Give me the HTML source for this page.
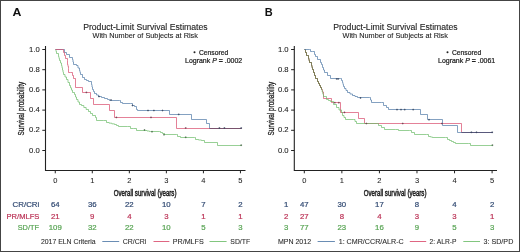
<!DOCTYPE html>
<html><head><meta charset="utf-8"><style>
html,body{margin:0;padding:0;background:#fff;}
body{width:520px;height:252px;overflow:hidden;}
svg{display:block;will-change:transform;filter:blur(0.3px);}
svg{font-family:"Liberation Sans", sans-serif;}
</style></head><body>
<svg width="520" height="252" viewBox="0 0 520 252">

<rect x="0.5" y="0.5" width="519" height="251" fill="none" stroke="#444" stroke-width="1"/>
<text x="12.5" y="15.8" font-size="11" font-weight="bold" fill="#111" stroke="none" textLength="8.9" lengthAdjust="spacingAndGlyphs">A</text>
<text x="264.7" y="15.9" font-size="11" font-weight="bold" fill="#111" stroke="none">B</text>
<text x="145.4" y="29.8" font-size="8.9" text-anchor="middle" fill="#222" stroke="#222" stroke-width="0.12" textLength="124.5" lengthAdjust="spacingAndGlyphs">Product-Limit Survival Estimates</text>
<text x="145.2" y="38.4" font-size="7.4" text-anchor="middle" fill="#222" stroke="#222" stroke-width="0.1" textLength="105.4" lengthAdjust="spacingAndGlyphs">With Number of Subjects at Risk</text>
<circle cx="194.5" cy="52.3" r="1.0" fill="#222"/>
<text x="199" y="55.0" font-size="6.9" fill="#222" textLength="29.2" lengthAdjust="spacingAndGlyphs" stroke="#222" stroke-width="0.22">Censored</text>
<text x="185.0" y="62.9" font-size="7.0" fill="#222" textLength="57.2" lengthAdjust="spacingAndGlyphs" stroke="#222" stroke-width="0.22">Logrank <tspan font-style="italic">P</tspan> <tspan font-weight="bold">=</tspan> .0002</text>
<path d="M45.5,46 V170.5 H245.5" fill="none" stroke="#222" stroke-width="1.1"/>
<line x1="42.3" y1="49.50" x2="45.5" y2="49.50" stroke="#222" stroke-width="1"/>
<text x="39.8" y="51.50" font-size="7.7" text-anchor="end" fill="#222" stroke="#222" stroke-width="0.08">1.0</text>
<line x1="42.3" y1="69.70" x2="45.5" y2="69.70" stroke="#222" stroke-width="1"/>
<text x="39.8" y="71.70" font-size="7.7" text-anchor="end" fill="#222" stroke="#222" stroke-width="0.08">0.8</text>
<line x1="42.3" y1="89.90" x2="45.5" y2="89.90" stroke="#222" stroke-width="1"/>
<text x="39.8" y="91.90" font-size="7.7" text-anchor="end" fill="#222" stroke="#222" stroke-width="0.08">0.6</text>
<line x1="42.3" y1="110.10" x2="45.5" y2="110.10" stroke="#222" stroke-width="1"/>
<text x="39.8" y="112.10" font-size="7.7" text-anchor="end" fill="#222" stroke="#222" stroke-width="0.08">0.4</text>
<line x1="42.3" y1="130.30" x2="45.5" y2="130.30" stroke="#222" stroke-width="1"/>
<text x="39.8" y="132.30" font-size="7.7" text-anchor="end" fill="#222" stroke="#222" stroke-width="0.08">0.2</text>
<line x1="42.3" y1="150.50" x2="45.5" y2="150.50" stroke="#222" stroke-width="1"/>
<text x="39.8" y="152.50" font-size="7.7" text-anchor="end" fill="#222" stroke="#222" stroke-width="0.08">0.0</text>
<line x1="55.25" y1="170.5" x2="55.25" y2="173.3" stroke="#222" stroke-width="1"/>
<text x="55.25" y="182.8" font-size="7.5" text-anchor="middle" fill="#222" stroke="#222" stroke-width="0.05">0</text>
<line x1="92.29" y1="170.5" x2="92.29" y2="173.3" stroke="#222" stroke-width="1"/>
<text x="92.29" y="182.8" font-size="7.5" text-anchor="middle" fill="#222" stroke="#222" stroke-width="0.05">1</text>
<line x1="129.33" y1="170.5" x2="129.33" y2="173.3" stroke="#222" stroke-width="1"/>
<text x="129.33" y="182.8" font-size="7.5" text-anchor="middle" fill="#222" stroke="#222" stroke-width="0.05">2</text>
<line x1="166.37" y1="170.5" x2="166.37" y2="173.3" stroke="#222" stroke-width="1"/>
<text x="166.37" y="182.8" font-size="7.5" text-anchor="middle" fill="#222" stroke="#222" stroke-width="0.05">3</text>
<line x1="203.41" y1="170.5" x2="203.41" y2="173.3" stroke="#222" stroke-width="1"/>
<text x="203.41" y="182.8" font-size="7.5" text-anchor="middle" fill="#222" stroke="#222" stroke-width="0.05">4</text>
<line x1="240.45" y1="170.5" x2="240.45" y2="173.3" stroke="#222" stroke-width="1"/>
<text x="240.45" y="182.8" font-size="7.5" text-anchor="middle" fill="#222" stroke="#222" stroke-width="0.05">5</text>
<text x="113.7" y="195.8" font-size="9.4" fill="#222" stroke="#222" stroke-width="0.5" textLength="62.8" lengthAdjust="spacingAndGlyphs">Overall survival (years)</text>
<text transform="translate(24,135.4) rotate(-90)" x="0" y="0" font-size="9.2" fill="#222" stroke="#222" stroke-width="0.3" textLength="53.6" lengthAdjust="spacingAndGlyphs">Survival probability</text>
<path d="M55.50,49.50 L56.00,49.50 L56.00,51.50 L56.50,51.50 L56.50,53.50 L58.50,53.50 L58.50,56.50 L59.00,56.50 L59.00,58.50 L59.50,58.50 L59.50,60.50 L60.50,60.50 L60.50,63.00 L61.50,63.00 L61.50,65.50 L62.00,65.50 L62.00,67.75 L62.50,67.75 L62.50,70.00 L63.00,70.00 L63.00,72.25 L63.50,72.25 L63.50,74.50 L65.00,74.50 L65.00,77.00 L66.50,77.00 L66.50,79.50 L68.00,79.50 L68.00,82.50 L69.50,82.50 L69.50,85.50 L70.50,85.50 L70.50,87.83 L71.50,87.83 L71.50,90.17 L72.50,90.17 L72.50,92.50 L74.50,92.50 L74.50,94.50 L75.50,94.50 L75.50,97.00 L76.50,97.00 L76.50,99.50 L78.00,99.50 L78.00,102.00 L79.50,102.00 L79.50,104.50 L81.50,104.50 L81.50,105.50 L83.83,105.50 L83.83,107.50 L86.17,107.50 L86.17,109.50 L88.50,109.50 L88.50,111.50 L90.50,111.50 L90.50,113.50 L92.50,113.50 L92.50,115.50 L95.50,115.50 L95.50,117.50 L96.50,117.50 L96.50,120.50 L103.50,120.50 L106.50,120.50 L106.50,122.50 L109.17,122.50 L109.17,123.17 L111.83,123.17 L111.83,123.83 L114.50,123.83 L114.50,124.50 L116.50,124.50 L116.50,125.50 L118.50,125.50 L118.50,126.50 L127.50,126.50 L130.50,126.50 L130.50,128.50 L133.50,128.50 L136.50,128.50 L136.50,130.50 L144.50,130.50 L147.00,130.50 L147.00,131.00 L149.50,131.00 L149.50,131.50 L150.50,131.50 L159.50,131.50 L160.50,131.50 L160.50,132.50 L162.50,132.50 L162.50,133.50 L164.50,133.50 L164.50,134.50 L176.50,134.50 L177.50,134.50 L177.50,136.50 L180.50,136.50 L180.50,137.50 L194.50,137.50 L195.50,137.50 L195.50,139.50 L198.50,139.50 L198.50,140.00 L201.50,140.00 L201.50,140.50 L204.50,140.50 L204.50,142.50 L217.50,142.50 L217.50,145.50 L241.50,145.50" fill="none" stroke="#6cbc68" stroke-width="0.7"/>
<path d="M55.50,49.50 L63.50,49.50 L64.50,49.50 L64.50,52.50 L66.50,52.50 L66.50,54.50 L69.50,54.50 L69.50,57.50 L72.50,57.50 L72.50,59.50 L73.00,59.50 L73.00,62.00 L73.50,62.00 L73.50,64.50 L76.50,64.50 L76.50,65.50 L78.00,65.50 L78.00,68.00 L79.50,68.00 L79.50,70.50 L80.00,70.50 L80.00,72.50 L80.50,72.50 L80.50,74.50 L82.50,74.50 L82.50,77.50 L84.50,77.50 L84.50,79.50 L86.50,79.50 L86.50,80.50 L88.50,80.50 L88.50,81.50 L91.50,81.50 L91.50,84.50 L92.00,84.50 L92.00,87.00 L92.50,87.00 L92.50,89.50 L93.50,89.50 L93.50,91.50 L94.50,91.50 L94.50,93.50 L96.50,93.50 L96.50,95.00 L98.50,95.00 L98.50,96.50 L101.50,96.50 L101.50,97.50 L104.50,97.50 L104.50,98.50 L107.50,98.50 L107.50,99.50 L109.50,99.50 L109.50,100.50 L119.50,100.50 L120.50,100.50 L120.50,102.50 L122.50,102.50 L122.50,103.50 L130.50,103.50 L132.50,103.50 L132.50,105.50 L134.50,105.50 L134.50,106.50 L136.50,106.50 L136.50,109.50 L137.50,109.50 L137.50,110.50 L169.50,110.50 L169.50,114.50 L191.50,114.50 L191.50,119.50 L206.50,119.50 L206.50,123.50 L209.50,123.50 L209.50,128.50 L241.50,128.50" fill="none" stroke="#4f78a6" stroke-width="0.7"/>
<path d="M55.50,49.50 L62.50,49.50 L63.50,49.50 L63.50,52.50 L64.50,52.50 L64.50,55.50 L65.50,55.50 L65.50,58.50 L67.50,58.50 L67.50,60.50 L67.50,64.50 L68.00,64.50 L68.00,66.50 L68.50,66.50 L68.50,68.50 L68.50,72.50 L70.50,72.50 L72.50,72.50 L72.50,75.50 L73.50,75.50 L73.50,78.50 L75.50,78.50 L75.50,87.50 L82.50,87.50 L82.50,92.50 L90.50,92.50 L90.50,98.50 L93.50,98.50 L93.50,104.50 L109.50,104.50 L109.50,110.50 L114.50,110.50 L114.50,117.50 L176.50,117.50 L176.50,128.50 L241.50,128.50" fill="none" stroke="#d94a6c" stroke-width="0.7"/>
<path d="M209.5,128.5 H241.5" fill="none" stroke="#5b4a63" stroke-width="0.7"/>
<path d="M99.00,95.60 V97.40 M98.10,96.50 H99.90" stroke="#33415a" stroke-width="0.8" fill="none" opacity="0.8"/><path d="M111.00,99.10 V100.90 M110.10,100.00 H111.90" stroke="#33415a" stroke-width="0.8" fill="none" opacity="0.8"/><path d="M132.50,104.60 V106.40 M131.60,105.50 H133.40" stroke="#33415a" stroke-width="0.8" fill="none" opacity="0.8"/><path d="M148.00,109.60 V111.40 M147.10,110.50 H148.90" stroke="#33415a" stroke-width="0.8" fill="none" opacity="0.8"/><path d="M153.90,109.60 V111.40 M153.00,110.50 H154.80" stroke="#33415a" stroke-width="0.8" fill="none" opacity="0.8"/><path d="M162.50,109.60 V111.40 M161.60,110.50 H163.40" stroke="#33415a" stroke-width="0.8" fill="none" opacity="0.8"/><path d="M178.70,113.50 V115.30 M177.80,114.40 H179.60" stroke="#33415a" stroke-width="0.8" fill="none" opacity="0.8"/><path d="M219.40,127.10 V128.90 M218.50,128.00 H220.30" stroke="#33415a" stroke-width="0.8" fill="none" opacity="0.8"/><path d="M224.40,127.10 V128.90 M223.50,128.00 H225.30" stroke="#33415a" stroke-width="0.8" fill="none" opacity="0.8"/><path d="M241.20,127.10 V128.90 M240.30,128.00 H242.10" stroke="#33415a" stroke-width="0.8" fill="none" opacity="0.8"/>
<path d="M86.40,91.50 V93.30 M85.50,92.40 H87.30" stroke="#6a3a4a" stroke-width="0.8" fill="none" opacity="0.8"/><path d="M116.40,116.50 V118.30 M115.50,117.40 H117.30" stroke="#6a3a4a" stroke-width="0.8" fill="none" opacity="0.8"/><path d="M151.00,116.50 V118.30 M150.10,117.40 H151.90" stroke="#6a3a4a" stroke-width="0.8" fill="none" opacity="0.8"/><path d="M185.70,127.10 V128.90 M184.80,128.00 H186.60" stroke="#6a3a4a" stroke-width="0.8" fill="none" opacity="0.8"/>
<path d="M144.50,129.10 V130.90 M143.60,130.00 H145.40" stroke="#3f5f3f" stroke-width="0.8" fill="none" opacity="0.8"/><path d="M152.00,130.80 V132.60 M151.10,131.70 H152.90" stroke="#3f5f3f" stroke-width="0.8" fill="none" opacity="0.8"/><path d="M164.00,133.80 V135.60 M163.10,134.70 H164.90" stroke="#3f5f3f" stroke-width="0.8" fill="none" opacity="0.8"/><path d="M185.70,136.40 V138.20 M184.80,137.30 H186.60" stroke="#3f5f3f" stroke-width="0.8" fill="none" opacity="0.8"/><path d="M241.20,144.30 V146.10 M240.30,145.20 H242.10" stroke="#3f5f3f" stroke-width="0.8" fill="none" opacity="0.8"/>
<text x="12.6" y="207.3" font-size="7.8" fill="#344c74" textLength="26.7" lengthAdjust="spacingAndGlyphs" stroke="#344c74" stroke-width="0.22">CR/CRi</text>
<text x="55.25" y="207.3" font-size="7.8" text-anchor="middle" fill="#344c74" stroke="#344c74" stroke-width="0.22">64</text>
<text x="92.29" y="207.3" font-size="7.8" text-anchor="middle" fill="#344c74" stroke="#344c74" stroke-width="0.22">36</text>
<text x="129.33" y="207.3" font-size="7.8" text-anchor="middle" fill="#344c74" stroke="#344c74" stroke-width="0.22">22</text>
<text x="166.37" y="207.3" font-size="7.8" text-anchor="middle" fill="#344c74" stroke="#344c74" stroke-width="0.22">10</text>
<text x="203.41" y="207.3" font-size="7.8" text-anchor="middle" fill="#344c74" stroke="#344c74" stroke-width="0.22">7</text>
<text x="240.45" y="207.3" font-size="7.8" text-anchor="middle" fill="#344c74" stroke="#344c74" stroke-width="0.22">2</text>
<text x="6.5" y="218.6" font-size="7.8" fill="#bc3558" textLength="32.9" lengthAdjust="spacingAndGlyphs" stroke="#bc3558" stroke-width="0.22">PR/MLFS</text>
<text x="55.25" y="218.6" font-size="7.8" text-anchor="middle" fill="#bc3558" stroke="#bc3558" stroke-width="0.22">21</text>
<text x="92.29" y="218.6" font-size="7.8" text-anchor="middle" fill="#bc3558" stroke="#bc3558" stroke-width="0.22">9</text>
<text x="129.33" y="218.6" font-size="7.8" text-anchor="middle" fill="#bc3558" stroke="#bc3558" stroke-width="0.22">4</text>
<text x="166.37" y="218.6" font-size="7.8" text-anchor="middle" fill="#bc3558" stroke="#bc3558" stroke-width="0.22">3</text>
<text x="203.41" y="218.6" font-size="7.8" text-anchor="middle" fill="#bc3558" stroke="#bc3558" stroke-width="0.22">1</text>
<text x="240.45" y="218.6" font-size="7.8" text-anchor="middle" fill="#bc3558" stroke="#bc3558" stroke-width="0.22">1</text>
<text x="17.7" y="229.9" font-size="7.8" fill="#5aa556" textLength="21.3" lengthAdjust="spacingAndGlyphs" stroke="#5aa556" stroke-width="0.22">SD/TF</text>
<text x="55.25" y="229.9" font-size="7.8" text-anchor="middle" fill="#5aa556" stroke="#5aa556" stroke-width="0.22">109</text>
<text x="92.29" y="229.9" font-size="7.8" text-anchor="middle" fill="#5aa556" stroke="#5aa556" stroke-width="0.22">32</text>
<text x="129.33" y="229.9" font-size="7.8" text-anchor="middle" fill="#5aa556" stroke="#5aa556" stroke-width="0.22">22</text>
<text x="166.37" y="229.9" font-size="7.8" text-anchor="middle" fill="#5aa556" stroke="#5aa556" stroke-width="0.22">10</text>
<text x="203.41" y="229.9" font-size="7.8" text-anchor="middle" fill="#5aa556" stroke="#5aa556" stroke-width="0.22">5</text>
<text x="240.45" y="229.9" font-size="7.8" text-anchor="middle" fill="#5aa556" stroke="#5aa556" stroke-width="0.22">3</text>
<text x="40.9" y="243.8" font-size="7" fill="#2a2a2a" stroke="#2a2a2a" stroke-width="0.08" textLength="54.8" lengthAdjust="spacingAndGlyphs">2017 ELN Criteria</text>
<line x1="102.3" y1="241.5" x2="119.2" y2="241.5" stroke="#4f78a6" stroke-width="0.85"/>
<text x="122.7" y="243.8" font-size="7" fill="#2a2a2a" stroke="#2a2a2a" stroke-width="0.08" textLength="23.6" lengthAdjust="spacingAndGlyphs">CR/CRi</text>
<line x1="153.5" y1="241.5" x2="169.4" y2="241.5" stroke="#d94a6c" stroke-width="0.85"/>
<text x="172.7" y="243.8" font-size="7" fill="#2a2a2a" stroke="#2a2a2a" stroke-width="0.08" textLength="31.1" lengthAdjust="spacingAndGlyphs">PR/MLFS</text>
<line x1="209.5" y1="241.5" x2="226.6" y2="241.5" stroke="#6cbc68" stroke-width="0.85"/>
<text x="230.3" y="243.8" font-size="7" fill="#2a2a2a" stroke="#2a2a2a" stroke-width="0.08" textLength="19.9" lengthAdjust="spacingAndGlyphs">SD/TF</text>
<text x="395.4" y="29.8" font-size="8.9" text-anchor="middle" fill="#222" stroke="#222" stroke-width="0.12" textLength="124.5" lengthAdjust="spacingAndGlyphs">Product-Limit Survival Estimates</text>
<text x="395.2" y="38.4" font-size="7.4" text-anchor="middle" fill="#222" stroke="#222" stroke-width="0.1" textLength="105.4" lengthAdjust="spacingAndGlyphs">With Number of Subjects at Risk</text>
<circle cx="447.5" cy="52.3" r="1.0" fill="#222"/>
<text x="452" y="55.0" font-size="6.9" fill="#222" textLength="29.2" lengthAdjust="spacingAndGlyphs" stroke="#222" stroke-width="0.22">Censored</text>
<text x="438.0" y="62.9" font-size="7.0" fill="#222" textLength="57.2" lengthAdjust="spacingAndGlyphs" stroke="#222" stroke-width="0.22">Logrank <tspan font-style="italic">P</tspan> <tspan font-weight="bold">=</tspan> .0061</text>
<path d="M294.3,46 V170.5 H497" fill="none" stroke="#222" stroke-width="1.1"/>
<line x1="291.1" y1="49.50" x2="294.3" y2="49.50" stroke="#222" stroke-width="1"/>
<text x="288.6" y="51.50" font-size="7.7" text-anchor="end" fill="#222" stroke="#222" stroke-width="0.08">1.0</text>
<line x1="291.1" y1="69.70" x2="294.3" y2="69.70" stroke="#222" stroke-width="1"/>
<text x="288.6" y="71.70" font-size="7.7" text-anchor="end" fill="#222" stroke="#222" stroke-width="0.08">0.8</text>
<line x1="291.1" y1="89.90" x2="294.3" y2="89.90" stroke="#222" stroke-width="1"/>
<text x="288.6" y="91.90" font-size="7.7" text-anchor="end" fill="#222" stroke="#222" stroke-width="0.08">0.6</text>
<line x1="291.1" y1="110.10" x2="294.3" y2="110.10" stroke="#222" stroke-width="1"/>
<text x="288.6" y="112.10" font-size="7.7" text-anchor="end" fill="#222" stroke="#222" stroke-width="0.08">0.4</text>
<line x1="291.1" y1="130.30" x2="294.3" y2="130.30" stroke="#222" stroke-width="1"/>
<text x="288.6" y="132.30" font-size="7.7" text-anchor="end" fill="#222" stroke="#222" stroke-width="0.08">0.2</text>
<line x1="291.1" y1="150.50" x2="294.3" y2="150.50" stroke="#222" stroke-width="1"/>
<text x="288.6" y="152.50" font-size="7.7" text-anchor="end" fill="#222" stroke="#222" stroke-width="0.08">0.0</text>
<line x1="304.30" y1="170.5" x2="304.30" y2="173.3" stroke="#222" stroke-width="1"/>
<text x="304.30" y="182.8" font-size="7.5" text-anchor="middle" fill="#222" stroke="#222" stroke-width="0.05">0</text>
<line x1="341.86" y1="170.5" x2="341.86" y2="173.3" stroke="#222" stroke-width="1"/>
<text x="341.86" y="182.8" font-size="7.5" text-anchor="middle" fill="#222" stroke="#222" stroke-width="0.05">1</text>
<line x1="379.42" y1="170.5" x2="379.42" y2="173.3" stroke="#222" stroke-width="1"/>
<text x="379.42" y="182.8" font-size="7.5" text-anchor="middle" fill="#222" stroke="#222" stroke-width="0.05">2</text>
<line x1="416.98" y1="170.5" x2="416.98" y2="173.3" stroke="#222" stroke-width="1"/>
<text x="416.98" y="182.8" font-size="7.5" text-anchor="middle" fill="#222" stroke="#222" stroke-width="0.05">3</text>
<line x1="454.54" y1="170.5" x2="454.54" y2="173.3" stroke="#222" stroke-width="1"/>
<text x="454.54" y="182.8" font-size="7.5" text-anchor="middle" fill="#222" stroke="#222" stroke-width="0.05">4</text>
<line x1="492.10" y1="170.5" x2="492.10" y2="173.3" stroke="#222" stroke-width="1"/>
<text x="492.10" y="182.8" font-size="7.5" text-anchor="middle" fill="#222" stroke="#222" stroke-width="0.05">5</text>
<text x="363.7" y="195.8" font-size="9.4" fill="#222" stroke="#222" stroke-width="0.5" textLength="62.8" lengthAdjust="spacingAndGlyphs">Overall survival (years)</text>
<text transform="translate(274,135.4) rotate(-90)" x="0" y="0" font-size="9.2" fill="#222" stroke="#222" stroke-width="0.3" textLength="53.6" lengthAdjust="spacingAndGlyphs">Survival probability</text>
<path d="M304.50,49.50 L305.50,49.50 L305.50,52.50 L306.50,52.50 L306.50,55.50 L308.50,55.50 L308.50,58.50 L309.00,58.50 L309.00,60.50 L309.50,60.50 L309.50,62.50 L311.50,62.50 L311.50,65.50 L312.00,65.50 L312.00,67.50 L312.50,67.50 L312.50,69.50 L313.50,69.50 L313.50,72.50 L314.50,72.50 L314.50,75.50 L315.50,75.50 L315.50,78.50 L317.50,78.50 L317.50,81.50 L318.50,81.50 L318.50,83.50 L319.50,83.50 L319.50,85.50 L320.50,85.50 L320.50,87.50 L321.50,87.50 L321.50,89.50 L322.50,89.50 L322.50,92.00 L323.50,92.00 L323.50,94.50 L323.50,98.50 L331.50,98.50 L331.50,102.50 L340.50,102.50 L340.50,112.50 L358.50,112.50 L358.50,118.50 L364.50,118.50 L364.50,123.50 L461.50,123.50 L461.50,132.50 L492.50,132.50" fill="none" stroke="#d94a6c" stroke-width="0.7"/>
<path d="M304.50,49.50 L305.50,49.50 L305.50,52.50 L306.50,52.50 L306.50,55.50 L308.50,55.50 L308.50,58.50 L309.00,58.50 L309.00,60.50 L309.50,60.50 L309.50,62.50 L311.50,62.50 L311.50,65.50 L312.00,65.50 L312.00,67.50 L312.50,67.50 L312.50,69.50 L313.50,69.50 L313.50,72.50 L314.50,72.50 L314.50,75.50 L315.50,75.50 L315.50,78.50 L317.50,78.50 L317.50,81.50 L318.50,81.50 L318.50,83.50 L319.50,83.50 L319.50,85.50 L320.50,85.50 L320.50,87.50 L321.50,87.50 L321.50,89.50 L322.17,89.50 L322.17,91.83 L322.83,91.83 L322.83,94.17 L323.50,94.17 L323.50,96.50 L326.50,96.50 L326.50,99.50 L328.50,99.50 L328.50,100.50 L330.50,100.50 L330.50,101.50 L333.50,101.50 L333.50,104.50 L336.50,104.50 L336.50,107.50 L339.00,107.50 L339.00,110.00 L341.50,110.00 L341.50,112.50 L342.50,112.50 L342.50,115.50 L344.00,115.50 L344.00,117.50 L345.50,117.50 L345.50,119.50 L353.50,119.50 L355.00,119.50 L355.00,121.50 L356.50,121.50 L356.50,123.50 L377.50,123.50 L378.50,123.50 L378.50,125.50 L381.50,125.50 L381.50,127.50 L384.50,127.50 L384.50,129.50 L395.50,129.50 L398.50,129.50 L398.50,130.50 L409.50,130.50 L411.50,130.50 L411.50,132.50 L414.50,132.50 L414.50,134.50 L426.50,134.50 L428.50,134.50 L428.50,136.50 L430.50,136.50 L430.50,137.00 L432.50,137.00 L432.50,137.50 L445.50,137.50 L447.50,137.50 L447.50,139.50 L449.50,139.50 L449.50,140.50 L451.50,140.50 L451.50,141.50 L453.50,141.50 L453.50,142.50 L455.50,142.50 L455.50,143.50 L468.50,143.50 L470.50,143.50 L470.50,145.50 L492.50,145.50" fill="none" stroke="#6cbc68" stroke-width="0.7"/>
<path d="M304.50,49.50 L305.50,49.50 L305.50,52.50 L306.50,52.50 L306.50,55.50 L308.50,55.50 L308.50,58.50 L309.00,58.50 L309.00,60.50 L309.50,60.50 L309.50,62.50 L311.50,62.50 L311.50,65.50 L312.00,65.50 L312.00,67.50 L312.50,67.50 L312.50,69.50 L313.50,69.50 L313.50,72.50 L314.50,72.50 L314.50,75.50 L315.50,75.50 L315.50,78.50 L317.50,78.50 L317.50,81.50 L318.50,81.50 L318.50,83.50 L319.50,83.50 L319.50,85.50 L320.50,85.50 L320.50,87.50 L321.50,87.50 L321.50,89.50" fill="none" stroke="#7a6a4c" stroke-width="0.7"/>
<path d="M304.50,49.50 L309.50,49.50 L310.50,49.50 L310.50,51.50 L312.50,51.50 L314.50,51.50 L314.50,54.50 L315.50,54.50 L315.50,56.50 L317.50,56.50 L317.50,59.50 L320.50,59.50 L320.50,62.50 L321.50,62.50 L321.50,64.50 L322.50,64.50 L322.50,67.50 L323.50,67.50 L323.50,70.00 L324.50,70.00 L324.50,72.50 L327.50,72.50 L327.50,75.50 L330.50,75.50 L330.50,78.50 L340.50,78.50 L341.50,78.50 L341.50,80.50 L342.50,80.50 L342.50,82.50 L343.00,82.50 L343.00,84.50 L343.50,84.50 L343.50,86.50 L344.50,86.50 L344.50,88.50 L346.00,88.50 L346.00,90.50 L347.50,90.50 L347.50,92.50 L350.00,92.50 L350.00,94.00 L352.50,94.00 L352.50,95.50 L355.00,95.50 L355.00,96.50 L357.50,96.50 L357.50,97.50 L369.50,97.50 L370.50,97.50 L370.50,100.00 L371.50,100.00 L371.50,102.50 L381.50,102.50 L383.50,102.50 L383.50,105.50 L386.50,105.50 L386.50,107.50 L388.50,107.50 L388.50,109.50 L420.50,109.50 L420.50,114.50 L427.50,114.50 L427.50,119.50 L442.50,119.50 L442.50,125.50 L457.50,125.50 L457.50,132.50 L492.50,132.50" fill="none" stroke="#4f78a6" stroke-width="0.7"/>
<path d="M461.5,132.5 H492.5" fill="none" stroke="#4b4a6b" stroke-width="0.7"/>
<path d="M336.70,78.00 V79.80 M335.80,78.90 H337.60" stroke="#33415a" stroke-width="0.8" fill="none" opacity="0.8"/><path d="M338.20,78.00 V79.80 M337.30,78.90 H339.10" stroke="#33415a" stroke-width="0.8" fill="none" opacity="0.8"/><path d="M360.50,97.00 V98.80 M359.60,97.90 H361.40" stroke="#33415a" stroke-width="0.8" fill="none" opacity="0.8"/><path d="M397.00,108.70 V110.50 M396.10,109.60 H397.90" stroke="#33415a" stroke-width="0.8" fill="none" opacity="0.8"/><path d="M401.00,108.70 V110.50 M400.10,109.60 H401.90" stroke="#33415a" stroke-width="0.8" fill="none" opacity="0.8"/><path d="M404.70,108.70 V110.50 M403.80,109.60 H405.60" stroke="#33415a" stroke-width="0.8" fill="none" opacity="0.8"/><path d="M413.20,108.70 V110.50 M412.30,109.60 H414.10" stroke="#33415a" stroke-width="0.8" fill="none" opacity="0.8"/><path d="M429.00,118.80 V120.60 M428.10,119.70 H429.90" stroke="#33415a" stroke-width="0.8" fill="none" opacity="0.8"/><path d="M471.40,131.40 V133.20 M470.50,132.30 H472.30" stroke="#33415a" stroke-width="0.8" fill="none" opacity="0.8"/><path d="M476.50,131.40 V133.20 M475.60,132.30 H477.40" stroke="#33415a" stroke-width="0.8" fill="none" opacity="0.8"/><path d="M492.20,131.40 V133.20 M491.30,132.30 H493.10" stroke="#33415a" stroke-width="0.8" fill="none" opacity="0.8"/>
<path d="M334.80,101.80 V103.60 M333.90,102.70 H335.70" stroke="#6a3a4a" stroke-width="0.8" fill="none" opacity="0.8"/><path d="M338.80,101.80 V103.60 M337.90,102.70 H339.70" stroke="#6a3a4a" stroke-width="0.8" fill="none" opacity="0.8"/><path d="M344.50,111.50 V113.30 M343.60,112.40 H345.40" stroke="#6a3a4a" stroke-width="0.8" fill="none" opacity="0.8"/><path d="M366.40,122.60 V124.40 M365.50,123.50 H367.30" stroke="#6a3a4a" stroke-width="0.8" fill="none" opacity="0.8"/><path d="M402.70,122.60 V124.40 M401.80,123.50 H403.60" stroke="#6a3a4a" stroke-width="0.8" fill="none" opacity="0.8"/><path d="M441.90,122.60 V124.40 M441.00,123.50 H442.80" stroke="#6a3a4a" stroke-width="0.8" fill="none" opacity="0.8"/>
<path d="M492.40,144.30 V146.10 M491.50,145.20 H493.30" stroke="#3f5f3f" stroke-width="0.8" fill="none" opacity="0.8"/>
<text x="286.1" y="207.3" font-size="7.8" text-anchor="middle" fill="#344c74" stroke="#344c74" stroke-width="0.22">1</text>
<text x="304.30" y="207.3" font-size="7.8" text-anchor="middle" fill="#344c74" stroke="#344c74" stroke-width="0.22">47</text>
<text x="341.86" y="207.3" font-size="7.8" text-anchor="middle" fill="#344c74" stroke="#344c74" stroke-width="0.22">30</text>
<text x="379.42" y="207.3" font-size="7.8" text-anchor="middle" fill="#344c74" stroke="#344c74" stroke-width="0.22">17</text>
<text x="416.98" y="207.3" font-size="7.8" text-anchor="middle" fill="#344c74" stroke="#344c74" stroke-width="0.22">8</text>
<text x="454.54" y="207.3" font-size="7.8" text-anchor="middle" fill="#344c74" stroke="#344c74" stroke-width="0.22">4</text>
<text x="492.10" y="207.3" font-size="7.8" text-anchor="middle" fill="#344c74" stroke="#344c74" stroke-width="0.22">2</text>
<text x="286.1" y="218.6" font-size="7.8" text-anchor="middle" fill="#bc3558" stroke="#bc3558" stroke-width="0.22">2</text>
<text x="304.30" y="218.6" font-size="7.8" text-anchor="middle" fill="#bc3558" stroke="#bc3558" stroke-width="0.22">27</text>
<text x="341.86" y="218.6" font-size="7.8" text-anchor="middle" fill="#bc3558" stroke="#bc3558" stroke-width="0.22">8</text>
<text x="379.42" y="218.6" font-size="7.8" text-anchor="middle" fill="#bc3558" stroke="#bc3558" stroke-width="0.22">4</text>
<text x="416.98" y="218.6" font-size="7.8" text-anchor="middle" fill="#bc3558" stroke="#bc3558" stroke-width="0.22">3</text>
<text x="454.54" y="218.6" font-size="7.8" text-anchor="middle" fill="#bc3558" stroke="#bc3558" stroke-width="0.22">3</text>
<text x="492.10" y="218.6" font-size="7.8" text-anchor="middle" fill="#bc3558" stroke="#bc3558" stroke-width="0.22">1</text>
<text x="286.1" y="229.9" font-size="7.8" text-anchor="middle" fill="#5aa556" stroke="#5aa556" stroke-width="0.22">3</text>
<text x="304.30" y="229.9" font-size="7.8" text-anchor="middle" fill="#5aa556" stroke="#5aa556" stroke-width="0.22">77</text>
<text x="341.86" y="229.9" font-size="7.8" text-anchor="middle" fill="#5aa556" stroke="#5aa556" stroke-width="0.22">23</text>
<text x="379.42" y="229.9" font-size="7.8" text-anchor="middle" fill="#5aa556" stroke="#5aa556" stroke-width="0.22">16</text>
<text x="416.98" y="229.9" font-size="7.8" text-anchor="middle" fill="#5aa556" stroke="#5aa556" stroke-width="0.22">9</text>
<text x="454.54" y="229.9" font-size="7.8" text-anchor="middle" fill="#5aa556" stroke="#5aa556" stroke-width="0.22">5</text>
<text x="492.10" y="229.9" font-size="7.8" text-anchor="middle" fill="#5aa556" stroke="#5aa556" stroke-width="0.22">3</text>
<text x="277.9" y="243.8" font-size="7" fill="#2a2a2a" stroke="#2a2a2a" stroke-width="0.08" textLength="33.2" lengthAdjust="spacingAndGlyphs">MPN 2012</text>
<line x1="317.6" y1="241.5" x2="334.9" y2="241.5" stroke="#4f78a6" stroke-width="0.85"/>
<text x="338.7" y="243.8" font-size="7" fill="#2a2a2a" stroke="#2a2a2a" stroke-width="0.08" textLength="65" lengthAdjust="spacingAndGlyphs">1: CMR/CCR/ALR-C</text>
<line x1="409.8" y1="241.5" x2="426.2" y2="241.5" stroke="#d94a6c" stroke-width="0.85"/>
<text x="429.6" y="243.8" font-size="7" fill="#2a2a2a" stroke="#2a2a2a" stroke-width="0.08" textLength="26.9" lengthAdjust="spacingAndGlyphs">2: ALR-P</text>
<line x1="463.3" y1="241.5" x2="480" y2="241.5" stroke="#6cbc68" stroke-width="0.85"/>
<text x="483.5" y="243.8" font-size="7" fill="#2a2a2a" stroke="#2a2a2a" stroke-width="0.08" textLength="29.8" lengthAdjust="spacingAndGlyphs">3: SD/PD</text>
</svg>
</body></html>
